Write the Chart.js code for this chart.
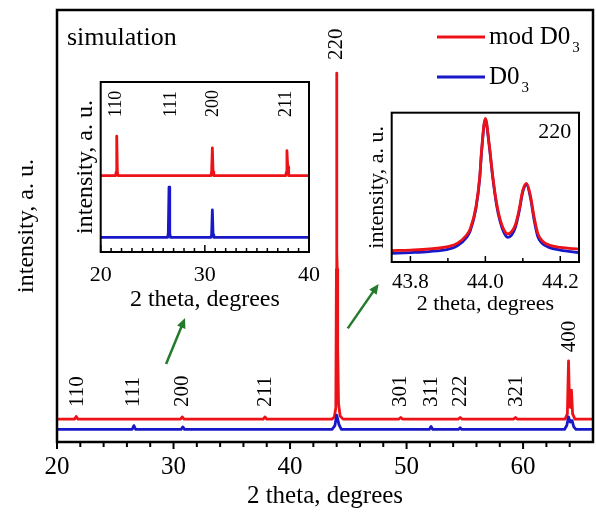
<!DOCTYPE html>
<html>
<head>
<meta charset="utf-8">
<script src="https://cdn.jsdelivr.net/npm/chart.js@4.4.0/dist/chart.umd.min.js"></script>
<style>
  body { margin: 0; background: #fff; }
  #wrap { position: relative; width: 596px; height: 517px; }
  canvas { position: absolute; }
</style>
</head>
<body>
<div id="wrap">
  <canvas id="main" width="596" height="517" style="left:0;top:0;width:596px;height:517px"></canvas>
  <canvas id="inset1" width="280" height="245" style="left:50px;top:72px;width:280px;height:245px"></canvas>
  <canvas id="inset2" width="240" height="215" style="left:355px;top:105px;width:240px;height:215px"></canvas>
</div>
<script>
// main pattern, [2 theta, intensity]
const redMain = [
    [20, 5.3], [21.5, 5.3], [21.65, 5.9], [21.8, 5.3],
    [30.6, 5.3], [30.75, 5.8], [30.9, 5.3],
    [37.7, 5.3], [37.85, 5.8], [38.0, 5.3],
    [43.6, 5.3], [43.8, 5.8], [43.93, 8], [43.98, 40], [44.0, 85.4], [44.02, 44], [44.05, 40],
    [44.09, 22], [44.16, 9], [44.3, 6], [44.55, 5.3],
    [49.35, 5.3], [49.5, 5.7], [49.65, 5.3],
    [54.45, 5.3], [54.6, 5.7], [54.75, 5.3],
    [59.2, 5.3], [59.35, 5.7], [59.5, 5.3],
    [63.6, 5.3], [63.8, 6.5], [63.9, 18.8], [63.98, 9], [64.05, 8], [64.15, 12], [64.25, 6.5], [64.45, 5.3],
    [66, 5.3]
];
const blueMain = [
    [20, 2.9], [26.45, 2.9], [26.6, 3.8], [26.75, 2.9],
    [30.65, 2.9], [30.8, 3.5], [30.95, 2.9],
    [43.6, 2.9], [43.85, 3.8], [44.0, 6.2], [44.1, 5.2], [44.2, 4], [44.4, 2.9],
    [51.95, 2.9], [52.1, 3.6], [52.25, 2.9],
    [54.45, 2.9], [54.6, 3.3], [54.75, 2.9],
    [63.55, 2.9], [63.75, 3.8], [63.9, 5.8], [64.05, 4.6], [64.2, 5], [64.35, 3.5], [64.55, 2.9],
    [66, 2.9]
];
const mainTicks = [20, 30, 40, 50, 60];
const mainMinor = [22, 24, 26, 28, 32, 34, 36, 38, 42, 44, 46, 48, 52, 54, 56, 58, 62, 64];
const mainLabels = ['110', '111', '200', '211', '220', '301', '311', '222', '321', '400'];
const mainLabelX = [21.75, 26.6, 30.8, 37.9, 44.0, 49.5, 52.15, 54.65, 59.4, 64.0];
const mainLabelY = [8.1, 8.1, 8.1, 8.1, 88.4, 8.1, 8.1, 8.1, 8.1, 20.8];
// arrows, [x0, y0, x1, y1] in main chart units
const arrows = [[29.36, 18.05, 30.99, 28.7], [44.95, 26.3, 47.6, 36.6]];

// inset 1: 20-40 degrees
const red1 = [
    [20, 44.9], [21.42, 44.9], [21.49, 47], [21.54, 68.2], [21.6, 47], [21.67, 44.9],
    [30.58, 44.9], [30.65, 47], [30.72, 61.3], [30.79, 47], [30.86, 44.9],
    [37.76, 44.9], [37.83, 47], [37.88, 59.6], [37.94, 52], [37.99, 50], [38.05, 44.9],
    [40, 44.9]
];
const blue1 = [
    [20, 8.6], [26.42, 8.6], [26.49, 11], [26.56, 38.2], [26.63, 11], [26.7, 8.6],
    [30.58, 8.6], [30.65, 10], [30.72, 24.7], [30.79, 10], [30.86, 8.6],
    [40, 8.6]
];
const ticks1 = [20, 30, 40];
const minor1 = [21, 22, 23, 24, 25, 26, 27, 28, 29, 31, 32, 33, 34, 35, 36, 37, 38, 39];
const labels1 = ['110', '111', '200', '211'];
const labelX1 = [21.53, 26.78, 30.81, 37.84];
const labelY1 = 79.4;

// inset 2: the 220 doublet
const red2 = [
    [43.75, 7.6], [43.8, 8.0], [43.85, 8.7], [43.9, 10.3], [43.925, 12.5], [43.95, 18.1], [43.96, 22.5],
    [43.975, 37], [43.985, 57], [43.99, 75], [44.0, 96.2], [44.01, 79.5], [44.02, 57], [44.03, 39.3],
    [44.04, 28], [44.05, 21.4], [44.06, 18.8], [44.07, 20.3], [44.08, 24.8], [44.09, 34.8], [44.1, 48.2],
    [44.11, 52.7], [44.12, 44.9], [44.13, 30.3], [44.14, 19.2], [44.15, 14.7], [44.17, 11.4], [44.2, 9.8],
    [44.25, 8.7]
];
const blue2 = [
    [43.75, 5.8], [43.8, 6.3], [43.85, 7], [43.9, 8.5], [43.925, 10.8], [43.95, 16.5], [43.96, 21],
    [43.975, 36], [43.985, 56], [43.99, 74], [44.0, 95.5], [44.01, 78.5], [44.02, 56], [44.03, 38],
    [44.04, 26.5], [44.05, 19.5], [44.06, 16.5], [44.07, 18], [44.08, 23], [44.09, 33.5], [44.1, 47],
    [44.11, 51.6], [44.12, 43.5], [44.13, 28.5], [44.14, 17], [44.15, 12.9], [44.17, 9.8], [44.2, 8],
    [44.25, 6.3]
];
const ticks2 = [43.8, 44.0, 44.2];
const minor2 = [43.9, 44.1];

const RED = '#ec1218';
const BLUE = '#1818c8';
const GREEN = '#237a2b';
const FONT = '"Liberation Serif", "Times New Roman", serif';

Chart.defaults.color = '#000';
Chart.defaults.font.family = FONT;

const pts = arr => arr.map(p => ({ x: p[0], y: p[1] }));

// shared look of a spectrum line
const lineStyle = col => ({
    borderColor: col, borderWidth: 2.8, pointRadius: 0,
    borderJoinStyle: 'round', borderCapStyle: 'round'
});

// frame round the plot area plus hand drawn tick marks
function frameTicks(cfg) {
    return {
        id: 'frameTicks',
        afterDraw(chart) {
            const { ctx, chartArea: a } = chart;
            const x = chart.scales.x;
            const dir = cfg.inward ? -1 : 1;
            ctx.save();
            ctx.strokeStyle = '#000';
            ctx.lineWidth = cfg.tickWidth;
            const mark = (v, len) => {
                const px = x.getPixelForValue(v);
                ctx.beginPath();
                ctx.moveTo(px, a.bottom);
                ctx.lineTo(px, a.bottom + dir * len);
                ctx.stroke();
            };
            cfg.major.forEach(v => mark(v, cfg.majorLen));
            cfg.minor.forEach(v => mark(v, cfg.minorLen));
            ctx.lineWidth = cfg.frame;
            ctx.strokeRect(a.left, a.top, a.right - a.left, a.bottom - a.top);
            ctx.restore();
        }
    };
}

function vText(ctx, text, x, y, size) {
    ctx.save();
    ctx.translate(x, y);
    ctx.rotate(-Math.PI / 2);
    ctx.font = size + 'px ' + FONT;
    ctx.textAlign = 'left';
    ctx.textBaseline = 'middle';
    ctx.fillStyle = '#000';
    ctx.fillText(text, 0, 0);
    ctx.restore();
}

function arrow(ctx, x0, y0, x1, y1) {
    const ang = Math.atan2(y1 - y0, x1 - x0);
    const c = Math.cos(ang), s = Math.sin(ang);
    const L = 10, W = 4.5;
    ctx.save();
    ctx.strokeStyle = GREEN;
    ctx.fillStyle = GREEN;
    ctx.lineWidth = 2.5;
    ctx.beginPath();
    ctx.moveTo(x0, y0);
    ctx.lineTo(x1 - L * 0.7 * c, y1 - L * 0.7 * s);
    ctx.stroke();
    ctx.beginPath();
    ctx.moveTo(x1, y1);
    ctx.lineTo(x1 - L * c + W * s, y1 - L * s - W * c);
    ctx.lineTo(x1 - L * c - W * s, y1 - L * s + W * c);
    ctx.closePath();
    ctx.fill();
    ctx.restore();
}

// text with subscript, e.g. D0 + 3
function subText(ctx, main, sub, x, y) {
    ctx.font = '25px ' + FONT;
    ctx.textAlign = 'left';
    ctx.textBaseline = 'middle';
    ctx.fillText(main, x, y);
    const w = ctx.measureText(main).width;
    ctx.font = '15px ' + FONT;
    ctx.fillText(sub, x + w + 2, y + 11);
}

const mainNotes = {
    id: 'mainNotes',
    afterDatasetsDraw(chart) {
        const { ctx, chartArea: a, scales: { x, y } } = chart;
        mainLabels.forEach((t, i) => {
            vText(ctx, t, x.getPixelForValue(mainLabelX[i]), y.getPixelForValue(mainLabelY[i]), 21);
        });
        ctx.save();
        ctx.fillStyle = '#000';
        ctx.font = '26px ' + FONT;
        ctx.textAlign = 'left';
        ctx.textBaseline = 'middle';
        ctx.fillText('simulation', a.left + 10, a.top + 28);

        // legend
        const lx0 = a.right - 156, lx1 = a.right - 108;
        [[RED, 'mod D0', a.top + 27], [BLUE, 'D0', a.top + 67]].forEach(([col, txt, ly]) => {
            ctx.strokeStyle = col;
            ctx.lineWidth = 3;
            ctx.beginPath();
            ctx.moveTo(lx0, ly);
            ctx.lineTo(lx1, ly);
            ctx.stroke();
            ctx.fillStyle = '#000';
            subText(ctx, txt, '3', lx1 + 4, ly);
        });
        ctx.restore();

        arrows.forEach(r => arrow(ctx,
            x.getPixelForValue(r[0]), y.getPixelForValue(r[1]),
            x.getPixelForValue(r[2]), y.getPixelForValue(r[3])));
    }
};

new Chart(document.getElementById('main'), {
    type: 'line',
    data: {
        datasets: [
            { label: 'D03', data: pts(blueMain), ...lineStyle(BLUE), order: 0 },
            { label: 'mod D03', data: pts(redMain), ...lineStyle(RED), order: 1 }
        ]
    },
    options: {
        responsive: false,
        animation: false,
        layout: { padding: { top: 10, right: 3, left: 0, bottom: 0 } },
        plugins: { legend: { display: false }, tooltip: { enabled: false } },
        scales: {
            x: {
                type: 'linear', min: 20, max: 66,
                grid: { display: false, drawTicks: false },
                border: { display: false },
                afterBuildTicks: s => { s.ticks = mainTicks.map(v => ({ value: v })); },
                ticks: { font: { size: 25 }, padding: 10, maxRotation: 0 },
                title: { display: true, text: '2 theta, degrees', font: { size: 25 }, padding: { top: 0, bottom: 6 } },
                afterFit: s => { s.height = 75; }
            },
            y: {
                min: 0, max: 100,
                grid: { display: false, drawTicks: false },
                border: { display: false },
                ticks: { display: false },
                title: { display: true, text: 'intensity, a. u.', font: { size: 24 }, padding: { top: 12.6, bottom: 0 } },
                afterFit: s => { s.width = 57; }
            }
        }
    },
    plugins: [mainNotes, frameTicks({ major: mainTicks, minor: mainMinor, majorLen: 7, minorLen: 5, inward: false, tickWidth: 2, frame: 2.5 })]
});

// inset 1
new Chart(document.getElementById('inset1'), {
    type: 'line',
    data: {
        datasets: [
            { label: 'mod D03', data: pts(red1), ...lineStyle(RED) },
            { label: 'D03', data: pts(blue1), ...lineStyle(BLUE) }
        ]
    },
    options: {
        responsive: false,
        animation: false,
        layout: { padding: { top: 10, right: 16, left: 0, bottom: 0 } },
        plugins: { legend: { display: false }, tooltip: { enabled: false } },
        scales: {
            x: {
                type: 'linear', min: 20, max: 40,
                grid: { display: false, drawTicks: false },
                border: { display: false },
                afterBuildTicks: s => { s.ticks = ticks1.map(v => ({ value: v })); },
                ticks: { font: { size: 22 }, padding: 10, maxRotation: 0 },
                title: { display: true, text: '2 theta, degrees', font: { size: 24 }, padding: { top: 0, bottom: 2.6 } },
                afterFit: s => { s.height = 65; }
            },
            y: {
                min: 0, max: 100,
                grid: { display: false, drawTicks: false },
                border: { display: false },
                ticks: { display: false },
                title: { display: true, text: 'intensity, a. u.', font: { size: 24 }, padding: { top: 21.6, bottom: 0 } },
                afterFit: s => { s.width = 50.7; }
            }
        }
    },
    plugins: [{
        id: 'inset1Notes',
        afterDatasetsDraw(chart) {
            const { ctx, scales: { x, y } } = chart;
            labels1.forEach((t, i) => vText(ctx, t, x.getPixelForValue(labelX1[i]), y.getPixelForValue(labelY1), 18));
        }
    }, frameTicks({ major: ticks1, minor: minor1, majorLen: 7, minorLen: 4, inward: true, tickWidth: 1.5, frame: 2 })]
});

// inset 2
new Chart(document.getElementById('inset2'), {
    type: 'line',
    data: {
        datasets: [
            { label: 'mod D03', data: pts(red2), ...lineStyle(RED), cubicInterpolationMode: 'monotone', order: 0 },
            { label: 'D03', data: pts(blue2), ...lineStyle(BLUE), cubicInterpolationMode: 'monotone', order: 1 }
        ]
    },
    options: {
        responsive: false,
        animation: false,
        layout: { padding: { top: 7.7, right: 16, left: 0, bottom: 0 } },
        plugins: { legend: { display: false }, tooltip: { enabled: false } },
        scales: {
            x: {
                type: 'linear', min: 43.75, max: 44.25,
                grid: { display: false, drawTicks: false },
                border: { display: false },
                afterBuildTicks: s => { s.ticks = ticks2.map(v => ({ value: v })); },
                ticks: { font: { size: 21 }, padding: 7.6, maxRotation: 0, callback: v => v.toFixed(1) },
                title: { display: true, text: '2 theta, degrees', font: { size: 22 }, padding: { top: 0, bottom: 2.3 } },
                afterFit: s => { s.height = 58; }
            },
            y: {
                min: 0, max: 100,
                grid: { display: false, drawTicks: false },
                border: { display: false },
                ticks: { display: false },
                title: { display: true, text: 'intensity, a. u.', font: { size: 22 }, padding: { top: 8.8, bottom: 0 } },
                afterFit: s => { s.width = 36.7; }
            }
        }
    },
    plugins: [{
        id: 'inset2Notes',
        afterDatasetsDraw(chart) {
            const { ctx, scales: { x, y } } = chart;
            ctx.save();
            ctx.font = '22px ' + FONT;
            ctx.fillStyle = '#000';
            ctx.textAlign = 'center';
            ctx.textBaseline = 'middle';
            ctx.fillText('220', x.getPixelForValue(44.185), y.getPixelForValue(87));
            ctx.restore();
        }
    }, frameTicks({ major: ticks2, minor: minor2, majorLen: 6, minorLen: 4, inward: true, tickWidth: 1.5, frame: 2 })]
});
</script>
</body>
</html>
